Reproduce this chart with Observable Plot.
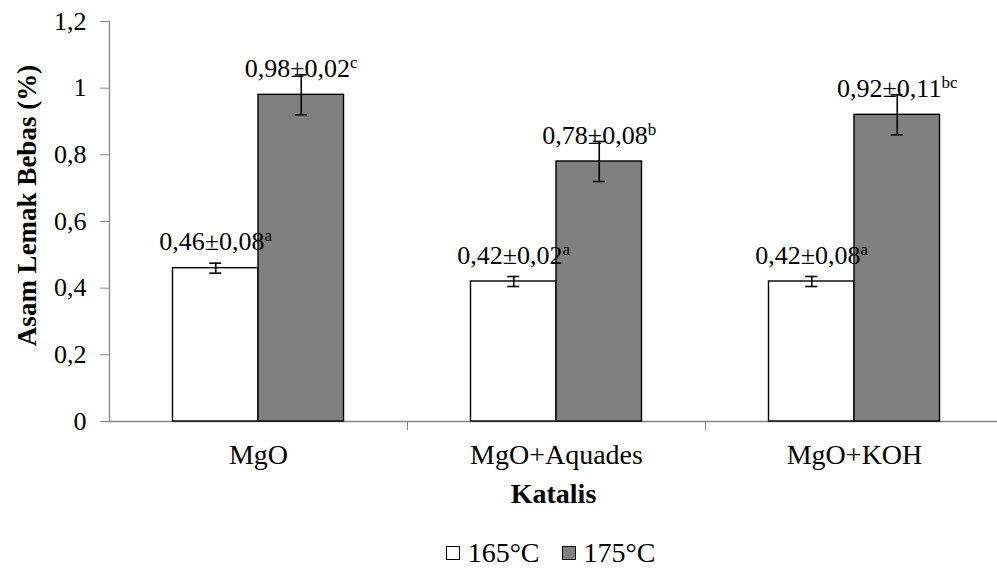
<!DOCTYPE html>
<html><head><meta charset="utf-8">
<script src="https://cdn.jsdelivr.net/npm/d3@7"></script>
<script src="https://cdn.jsdelivr.net/npm/@observablehq/plot@0.6"></script>
<style>
html, body{margin:0;background:#fff;}
#legend{display:flex;justify-content:center;align-items:center;height:44px;padding-top:6px;padding-left:104px;font-size:28px;color:#000;}
#legend .item{display:flex;align-items:center;margin:0 11px;}
#legend .sw{width:12px;height:12px;border:1px solid #000;margin-right:8px;}
</style></head><body style="font-family:'Liberation Serif'"><div id="chart"></div><div id="legend"></div>
<script>
const categories = ["MgO", "MgO+Aquades", "MgO+KOH"];
const series = ["165°C", "175°C"];
const values165 = [0.46, 0.42, 0.42];
const values175 = [0.98, 0.78, 0.92];
const errBar165 = [0.015, 0.015, 0.015];
const errBar175 = [0.06, 0.06, 0.06];
const labels165 = ["0,46±0,08", "0,42±0,02", "0,42±0,08"];
const labels175 = ["0,98±0,02", "0,78±0,08", "0,92±0,11"];
const letters165 = ["a", "a", "a"];
const letters175 = ["c", "b", "bc"];
const yTicks = [0, 0.2, 0.4, 0.6, 0.8, 1, 1.2];
const colors = ["#ffffff", "#808080"];
const xTitle = "Katalis";
const yTitle = "Asam Lemak Bebas (%)";

const mk = (vals, errs, labs, lets) => categories.map((c, i) => ({cat: c, v: vals[i], e: errs[i], label: labs[i] + "^" + lets[i]}));
const rows165 = mk(values165, errBar165, labels165, letters165);
const rows175 = mk(values175, errBar175, labels175, letters175);

const FONT = "'Liberation Serif', 'Times New Roman', serif";
const W = 997, H = 525, ML = 109, MT = 21, MB = 104;
const xEnd = 1003;
const step = (xEnd - ML) / categories.length;
const bw = 85.5;
const inset = (step - bw) / 2;
const capInset = (step - 12) / 2;
const axisGray = "#868686";

function bars(rows, fill, dx) {
  return [
    Plot.barY(rows, {x: "cat", y: "v", fill, stroke: "#000", strokeWidth: 1.4, dx, insetLeft: inset, insetRight: inset}),
    Plot.ruleX(rows, {x: "cat", y1: d => d.v - d.e, y2: d => d.v + d.e, dx, stroke: "#000", strokeWidth: 1.6}),
    Plot.tickY(rows, {x: "cat", y: d => d.v - d.e, dx, insetLeft: capInset, insetRight: capInset, stroke: "#000", strokeWidth: 1.6}),
    Plot.tickY(rows, {x: "cat", y: d => d.v + d.e, dx, insetLeft: capInset, insetRight: capInset, stroke: "#000", strokeWidth: 1.6})
  ];
}
function labels(rows, dx) {
  return Plot.text(rows, {x: "cat", y: "v", dx, dy: -18, text: "label", lineAnchor: "bottom", textAnchor: "middle", fontSize: 26, fill: "#000"});
}

const chart = Plot.plot({
  width: W, height: H,
  marginLeft: ML, marginTop: MT, marginBottom: MB, marginRight: 0,
  style: {fontFamily: FONT, fontSize: "26px", background: "white", color: "#000"},
  x: {domain: categories, range: [ML, xEnd], padding: 0, label: null},
  y: {domain: [0, 1.2], label: null},
  marks: [
    Plot.ruleY([0], {stroke: axisGray, strokeWidth: 1.3}),
    Plot.frame({anchor: "left", stroke: axisGray, strokeWidth: 1.3}),
    Plot.axisY({ticks: yTicks, tickFormat: d => String(d).replace(".", ","), tickSize: 9, tickPadding: 14, stroke: axisGray, fill: "#000", fontSize: 26, label: null}),
    Plot.axisX({tickSize: 9, dx: step / 2, stroke: axisGray, fill: "none", label: null}),
    Plot.axisX({tickSize: 0, tickPadding: 23, fontSize: 28, fill: "#000", label: null}),
    ...bars(rows165, colors[0], -bw / 2),
    ...bars(rows175, colors[1], bw / 2),
    labels(rows165, -bw / 2),
    labels(rows175, bw / 2),
    Plot.text([xTitle], {frameAnchor: "bottom", dy: 73, text: d => d, fontWeight: "bold", fontSize: 28, lineAnchor: "middle", textAnchor: "middle", fill: "#000"}),
    Plot.text([yTitle], {frameAnchor: "left", rotate: -90, dx: -82, dy: -16, text: d => d, fontWeight: "bold", fontSize: 27, lineAnchor: "middle", textAnchor: "middle", fill: "#000"})
  ]
});
document.getElementById("chart").appendChild(chart);

// superscripts for significance letters
chart.querySelectorAll("text").forEach(t => {
  const s = t.textContent;
  const k = s.indexOf("^");
  if (k < 0) return;
  while (t.firstChild) t.removeChild(t.firstChild);
  t.appendChild(document.createTextNode(s.slice(0, k)));
  const sp = document.createElementNS("http://www.w3.org/2000/svg", "tspan");
  sp.setAttribute("dy", "-9");
  sp.setAttribute("font-size", "17");
  sp.textContent = s.slice(k + 1);
  t.appendChild(sp);
});

const legend = document.getElementById("legend");
series.forEach((s, i) => {
  const it = document.createElement("div"); it.className = "item";
  const sw = document.createElement("div"); sw.className = "sw"; sw.style.background = colors[i];
  const tx = document.createElement("span"); tx.textContent = s;
  it.appendChild(sw); it.appendChild(tx); legend.appendChild(it);
});

[chart, ...chart.querySelectorAll("g, text, tspan"), legend, ...legend.querySelectorAll("*")].forEach(el => {
  el.style.setProperty("font-family", FONT, "important");
});
</script></body></html>
